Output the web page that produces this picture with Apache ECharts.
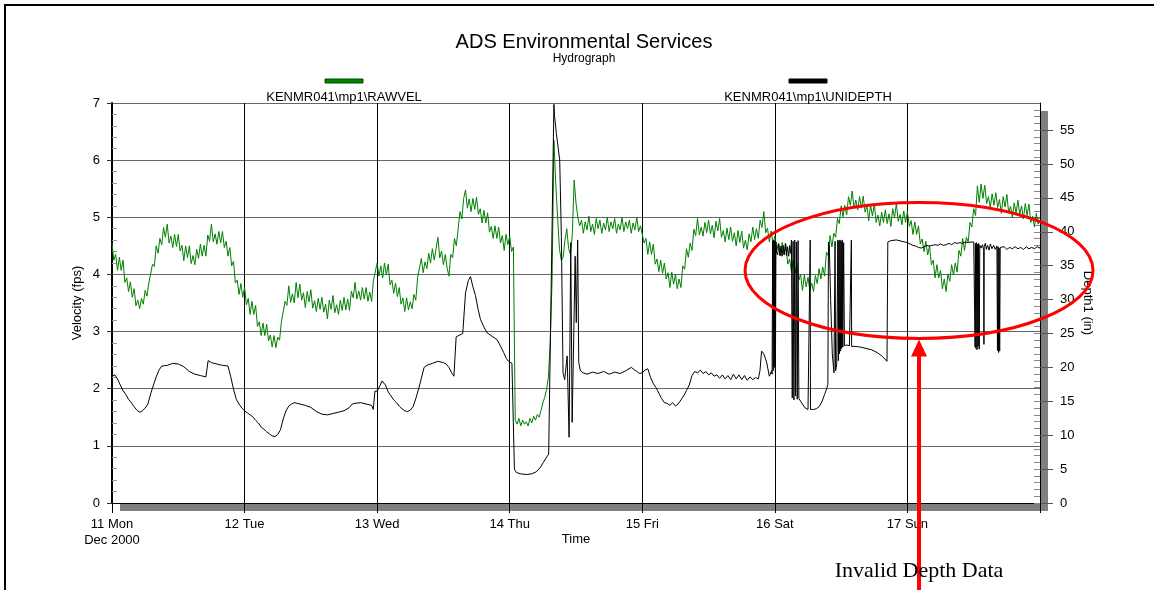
<!DOCTYPE html>
<html>
<head>
<meta charset="utf-8">
<title>ADS Environmental Services - Hydrograph</title>
<script src="https://cdn.jsdelivr.net/npm/echarts@6/dist/echarts.min.js"></script>
<style>
  html, body { margin: 0; padding: 0; background: #fff; }
  #chart { width: 1154px; height: 590px; }
</style>
</head>
<body>
<div id="chart"></div>
<script>
// ---- Axis labels -------------------------------------------------------
const dayLabels = ['11 Mon', '12 Tue', '13 Wed', '14 Thu', '15 Fri', '16 Sat', '17 Sun'];
const monthLabel = 'Dec 2000';
const depthTickLabels = [0, 5, 10, 15, 20, 25, 30, 35, 40, 45, 50, 55];

const velName = 'KENMR041\\mp1\\RAWVEL';
const depthName = 'KENMR041\\mp1\\UNIDEPTH';

// ---- Velocity (fps), one reading every 20 minutes, per day --------------
const VEL_STEP_H = 1 / 3;
const velMon = [4.55,4.25,4.35, 4.07,4.30,4.07, 4.25,3.86,3.94, 3.70,3.87,3.60, 3.75,3.45,3.55, 3.40,3.58,3.48,
  3.72,3.62,3.85, 3.83,4.18,4.14, 4.50,4.37,4.63, 4.52,4.82,4.65, 4.88,4.55,4.67, 4.47,4.70,4.49,
  4.70,4.41,4.51, 4.24,4.50,4.29, 4.50,4.19,4.33, 4.17,4.44,4.28, 4.53,4.32,4.51, 4.32,4.69,4.58,
  4.88,4.57,4.71, 4.53,4.75,4.55, 4.75,4.47,4.58, 4.32,4.47,4.15, 4.23,3.85,3.90, 3.65,3.84,3.60];
const velTue = [3.77,3.47,3.58, 3.30,3.53,3.30, 3.46,3.09,3.17, 2.93,3.15,2.93, 3.13,2.84,2.94, 2.73,2.93,2.72,
  2.90,2.85,3.17, 3.15,3.53,3.46, 3.80,3.51,3.66, 3.50,3.86,3.59, 3.83,3.55,3.68, 3.42,3.70,3.52,
  3.73,3.41,3.54, 3.35,3.58,3.39, 3.60,3.34,3.48, 3.22,3.55,3.39, 3.63,3.33,3.47, 3.30,3.55,3.37,
  3.60,3.38,3.57, 3.37,3.71,3.59, 3.86,3.57,3.71, 3.55,3.77,3.57, 3.77,3.53,3.69, 3.53,3.90,3.87];
const velWed = [4.20,3.97,4.15, 3.94,4.20,3.99, 4.18,3.82,3.90, 3.67,3.85,3.61, 3.77,3.48,3.59, 3.35,3.59,3.38,
  3.52,3.40,3.65, 3.55,3.95,3.92, 4.28,4.03,4.22, 4.10,4.37,4.20, 4.45,4.25,4.45, 4.65,4.29,4.41,
  4.17,4.35,4.11, 3.97,4.35,4.29, 4.63,4.50,4.80, 5.10,4.97,5.33, 5.48,5.16,5.32, 5.10,5.33,5.14,
  5.35,5.05,5.15, 4.90,5.12,4.90, 5.08,4.74,4.84, 4.63,4.85,4.63, 4.83,4.55,4.68, 4.42,4.70,4.52];
const velThu = [4.67,4.40,4.48, 1.45,1.38,1.48, 1.35,1.45,1.38, 1.42,1.35,1.48, 1.40,1.52,1.45, 1.55,1.50,1.62,
  1.75,1.85,1.98, 2.20,2.80,3.90, 6.35,5.60,5.00, 4.45,4.25,4.30, 4.60,4.80,4.45, 4.35,4.70,5.65,
  5.25,5.00,4.85, 4.95,4.72,4.92, 4.78,5.02,4.75, 4.88,4.70,4.98, 4.80,4.95,4.72, 4.90,4.78,5.00,
  4.75,4.92,4.80, 4.98,4.72,4.88, 4.78,5.00,4.75, 4.92,4.80,4.95, 4.72,4.90,4.78, 5.00,4.75,4.85];
const velFri = [4.85,4.55,4.63, 4.35,4.57,4.35, 4.53,4.18,4.27, 4.05,4.25,4.02, 4.20,3.92,4.03, 3.77,4.04,3.83,
  4.00,3.75,3.92, 3.77,4.15,4.09, 4.45,4.30,4.55, 4.42,4.79,4.68, 4.98,4.69,4.83, 4.67,4.91,4.73,
  4.95,4.71,4.86, 4.64,4.93,4.76, 4.98,4.65,4.77, 4.57,4.81,4.61, 4.83,4.58,4.73, 4.50,4.77,4.56,
  4.76,4.46,4.60, 4.43,4.71,4.57, 4.83,4.61,4.80, 4.63,4.95,4.82, 5.10,4.73,4.81, 4.57,4.76,4.53];
const velSat = [4.67,4.43,4.55, 4.33,4.56,4.34, 4.53,4.18,4.27, 4.05,4.25,4.02, 4.20,3.90,4.00, 3.72,3.99,3.78,
  3.95,3.72,3.85, 3.70,3.98,3.84, 4.10,3.92,4.13, 3.97,4.39,4.33, 4.68,4.48,4.72, 4.65,4.98,4.89,
  5.20,5.01,5.21, 5.04,5.36,5.21, 5.46,5.16,5.30, 5.13,5.36,5.16, 5.37,5.09,5.20, 4.94,5.22,5.02,
  5.23,4.91,5.04, 4.85,5.09,4.91, 5.13,4.89,5.06, 4.84,5.15,5.00, 5.24,4.93,5.05, 4.87,5.11,4.91];
const velSun = [5.10,4.84,4.94, 4.70,4.92,4.70, 4.85,4.53,4.62, 4.40,4.58,4.34, 4.50,4.17,4.25, 3.94,4.17,3.94,
  4.07,3.75,3.92, 3.70,4.01,3.88, 4.17,3.99,4.20, 4.04,4.42,4.32, 4.63,4.42,4.65, 4.57,4.91,4.83,
  5.15,5.03,5.55, 5.26,5.58,5.33, 5.56,5.24,5.36, 5.17,5.41,5.21, 5.43,5.17,5.31, 5.07,5.36,5.18,
  5.40,5.08,5.19, 5.00,5.25,5.07, 5.30,5.05,5.20, 4.97,5.24,5.03, 5.23,4.91,5.02, 4.83,5.07,4.88, 4.95];

// ---- Depth (in), [hour of day, value] per day ---------------------------
const depthMon = [[0,18.7],[0.5,18.9],[1,18.3],[1.5,17.4],[2,16.6],[2.5,16.0],[3,15.3],[3.5,14.8],
  [4,14.2],[4.5,13.7],[5,13.4],[5.5,13.6],[6,14.0],[6.5,14.6],[7,16.1],[7.5,17.4],[8,18.6],
  [8.5,19.6],[9,20.2],[10,20.3],[11,20.6],[12,20.5],[13,20.1],[14,19.4],[15,19.0],[16,18.8],
  [17,18.6],[17.4,21.0],[18,20.7],[19,20.5],[20,20.3],[21,20.2],[21.5,18.6],[22,16.8],
  [22.5,15.3],[23,14.6],[23.5,14.0]];
const depthTue = [[0,13.6],[0.5,13.3],[1,13.0],[1.5,12.7],[2,12.2],[2.5,11.8],[3,11.2],[3.5,10.9],
  [4,10.5],[4.5,10.2],[5,9.9],[5.5,9.8],[6,10.1],[6.5,10.8],[7,12.4],[7.5,13.6],[8,14.3],
  [8.5,14.6],[9,14.8],[9.5,14.7],[10,14.6],[11,14.4],[12,14.1],[13,13.5],[14,13.1],[15,13.0],
  [16,13.2],[17,13.4],[18,13.6],[19,14.1],[19.5,14.6],[20,14.7],[21,14.8],[22,14.6],[23,14.4],
  [23.3,13.8],[23.6,16.5]];
const depthWed = [[0,16.5],[0.5,17.3],[0.9,18.0],[1.5,17.4],[2,16.4],[2.5,15.8],[3,15.2],[3.5,14.8],
  [4,14.3],[4.5,13.9],[5,13.6],[5.5,13.5],[6,13.7],[6.5,14.2],[7,15.4],[7.5,16.8],[8,18.4],
  [8.5,20.0],[9,20.3],[10,20.6],[11,20.9],[12,20.7],[12.5,20.5],[13,20.0],[13.5,19.2],[13.9,18.7],
  [14.3,24.5],[15,24.8],[15.5,25.0],[16,31.0],[16.5,32.8],[16.9,33.4],[17.3,32.0],[17.8,30.6],
  [18.3,28.5],[18.7,27.1],[19.3,26.0],[19.9,25.1],[20.8,24.6],[21.7,24.1],[22.3,23.2],[22.9,22.2],
  [23.4,21.3],[23.8,20.9]];
const depthThu = [[0,20.8],[0.4,20.6],[0.75,20.5],[0.85,5.0],[1.2,4.5],[2,4.3],[3,4.2],[4,4.3],
  [4.8,4.6],[5.5,5.2],[6.1,6.0],[6.7,6.8],[7.05,7.2],[7.25,18.0],[7.5,31.5],[8.0,58.8],[8.1,57.2],
  [8.45,54.5],[9.05,50.6],[9.35,39.3],[9.65,19.2],[9.95,18.2],[10.4,21.7],[10.75,9.7],[11.05,38.4],
  [11.3,11.9],[11.6,25.1],[11.85,36.4],[12.05,26.6],[12.3,38.8],[12.5,20.7],[12.8,19.5],[13.3,19.2],
  [14,19.0],[15,19.3],[16,19.1],[17,19.4],[18,19.0],[19,19.3],[20,19.1],[21,19.5],[22,20.0],
  [23,19.4],[23.5,19.1]];
const depthFri = [[0,19.2],[0.5,19.6],[1,19.8],[1.5,18.5],[2,17.6],[2.5,17.0],[3,16.2],[3.5,15.4],
  [4,14.8],[4.5,14.7],[5,14.4],[5.5,14.8],[6,14.3],[6.5,14.6],[7,15.2],[7.5,15.8],[8,16.6],
  [8.5,17.4],[9,18.8],[9.5,19.4],[10,19.2],[10.5,19.6],[11,19.1],[11.5,19.4],[12,18.9],[12.5,19.2],
  [13,18.7],[13.5,18.9],[14,18.4],[14.5,18.9],[15,18.3],[15.5,18.8],[16,18.2],[16.5,19.0],
  [17,18.3],[17.5,18.9],[18,18.2],[18.5,18.8],[19,18.1],[19.5,18.6],[20,18.2],[20.5,18.5],
  [21,18.3],[21.3,19.5],[21.6,22.4],[22,22.0],[22.5,20.8],[23,18.7],[23.4,19.5]];
const depthSat = [[-0.5,19.0],[-0.4,38.6],[-0.3,19.5],[-0.2,38.8],[-0.1,20.0],[0,38.7],[0.1,19.2],
  [0.2,38.5],[0.3,37.0],[0.5,36.6],[0.7,38.2],[0.9,36.5],[1.1,37.9],[1.3,36.4],[1.5,38.0],[1.7,36.6],
  [1.9,38.3],[2.1,36.5],[2.3,37.8],[2.5,36.4],[2.7,38.0],[2.9,36.8],[3.0,38.8],[3.15,15.5],
  [3.3,38.6],[3.45,15.2],[3.6,38.8],[3.75,15.8],[3.9,38.5],[4.05,15.3],[4.2,38.7],[4.35,15.4],
  [4.5,15.3],[5,14.6],[5.5,14.0],[6,13.8],[6.35,13.8],[6.4,38.8],[6.45,13.8],[7,13.8],[7.5,13.9],
  [8,14.2],[8.5,14.9],[9,16.0],[9.4,16.9],[9.6,17.5],[9.7,38.5],[9.85,38.0],[10.1,30.0],[10.4,22.0],
  [10.7,19.2],[10.9,38.6],[11.0,19.5],[11.2,20.5],[11.4,38.8],[11.5,21.0],[11.6,38.7],[11.7,22.0],
  [11.8,38.8],[11.9,22.4],[12.0,38.6],[12.1,22.8],[12.2,38.8],[12.3,23.0],[12.45,38.4],[12.6,23.2],
  [13,23.3],[13.5,23.2],[13.8,23.1],[13.85,38.8],[13.9,23.1],[14.5,23.1],[15.5,23.0],[16.5,22.8],
  [17.5,22.6],[18.5,22.2],[19.5,21.6],[20.3,20.9],[20.45,38.5],[21,38.7],[22,38.8],[23,38.6]];
const depthSun = [[0,38.4],[0.5,38.2],[1,38.0],[1.5,37.9],[2,37.7],[2.5,37.6],[3,37.8],[3.5,38.0],
  [4,37.9],[4.5,38.0],[5,38.1],[5.5,38.0],[6,38.2],[6.5,38.0],[7,38.1],[7.5,38.3],[8,38.1],
  [8.5,38.4],[9,38.3],[9.5,38.4],[10,38.3],[10.5,38.5],[11,38.4],[11.5,38.5],[12,38.5],[12.2,38.4],
  [12.25,23.0],[12.3,38.3],[12.4,22.8],[12.5,38.4],[12.6,22.6],[12.7,38.2],[12.8,23.1],[12.9,38.3],
  [13.0,22.7],[13.1,38.0],[13.3,37.6],[13.6,38.1],[13.8,37.2],[13.85,23.4],[13.9,37.8],[14.1,38.3],
  [14.3,37.4],[14.5,38.0],[14.8,37.3],[15.0,38.2],[15.3,37.5],[15.6,38.0],[15.9,37.4],[16.2,37.9],
  [16.3,22.5],[16.4,37.8],[16.5,22.2],[16.6,37.6],[16.7,22.4],[16.8,37.7],[17,37.5],[17.5,37.8],
  [18,37.4],[18.5,37.7],[19,37.5],[19.5,37.8],[20,37.5],[20.5,37.7],[21,37.4],[21.5,37.8],[22,37.5],
  [22.5,37.7],[23,37.5],[23.5,37.8],[24,37.6]];

// ---- Build series on a continuous hour scale (0 = 11 Dec 00:00) --------
const velocityByDay = [velMon, velTue, velWed, velThu, velFri, velSat, velSun];
const depthByDay = [depthMon, depthTue, depthWed, depthThu, depthFri, depthSat, depthSun];
const velData = [];
velocityByDay.forEach((vals, d) => vals.forEach((v, i) => velData.push([d * 24 + i * VEL_STEP_H, v])));
const depthData = [];
depthByDay.forEach((pts, d) => pts.forEach(([h, v]) => depthData.push([d * 24 + h, v])));

// minor tick positions
const velMinor = [];
for (let i = 1; i < 35; i++) if (i % 5) velMinor.push(i / 5);
const depthMinor = [];
for (let i = 0; i <= 58; i++) depthMinor.push(i);

const FONT = '"Liberation Sans", Arial, sans-serif';
const SERIF = '"Liberation Serif", "Times New Roman", serif';
const G = { left: 112, top: 103, width: 928, height: 400 };
const SHADOW = 8;
const HOURS = dayLabels.length * 24;

const chart = echarts.init(document.getElementById('chart'), null, { renderer: 'canvas' });

const option = {
  animation: false,
  backgroundColor: '#fff',
  textStyle: { fontFamily: FONT, color: '#000' },
  title: {
    text: 'ADS Environmental Services',
    subtext: 'Hydrograph',
    left: 579, top: 27, textAlign: 'center', itemGap: 1,
    textStyle: { fontFamily: FONT, fontSize: 20, fontWeight: 'normal', color: '#000' },
    subtextStyle: { fontFamily: FONT, fontSize: 12, color: '#000' }
  },
  grid: { left: G.left, top: G.top, width: G.width, height: G.height, containLabel: false,
          show: true, backgroundColor: '#fff', borderWidth: 0 },
  xAxis: {
    type: 'value', min: 0, max: HOURS, interval: 24,
    name: 'Time', nameLocation: 'middle', nameGap: 30, nameMoveOverlap: false,
    nameTextStyle: { fontFamily: FONT, fontSize: 13, color: '#000' },
    axisLine: { onZero: false, lineStyle: { color: '#000', width: 1 } },
    axisTick: { length: 10, lineStyle: { color: '#000', width: 1 } },
    axisLabel: {
      margin: 13, fontSize: 13, color: '#000', lineHeight: 16, showMinLabel: true,
      formatter: (val) => {
        const i = Math.round(val / 24);
        if (i >= dayLabels.length) return '';
        return i === 0 ? dayLabels[0] + '\n' + monthLabel : dayLabels[i];
      }
    },
    splitLine: { show: true, lineStyle: { color: '#000', width: 1 } }
  },
  yAxis: [
    {
      type: 'value', min: 0, max: 7, interval: 1, position: 'left',
      name: 'Velocity (fps)', nameLocation: 'middle', nameGap: 28, nameMoveOverlap: false,
      nameTextStyle: { fontFamily: FONT, fontSize: 13, color: '#000' },
      axisLine: { show: true, onZero: false, lineStyle: { color: '#000', width: 2 } },
      axisTick: { show: true, length: 5, lineStyle: { color: '#333' } },
      axisLabel: { margin: 12, fontSize: 13, color: '#000' },
      splitLine: { show: true, lineStyle: { color: '#666', width: 1 } }
    },
    {
      type: 'value', min: 0, max: 59, position: 'right',
      name: 'Depth1 (in)', nameLocation: 'middle', nameRotate: -90, nameGap: 41, nameMoveOverlap: false,
      nameTextStyle: { fontFamily: FONT, fontSize: 13, color: '#000' },
      axisLine: { show: true, onZero: false, lineStyle: { color: '#000', width: 1 } },
      axisTick: { show: true, length: 13, customValues: depthTickLabels, lineStyle: { color: '#555' } },
      axisLabel: { margin: 20, fontSize: 13, color: '#000', customValues: depthTickLabels },
      splitLine: { show: false }
    },
    {
      type: 'value', min: 0, max: 7, position: 'left',
      axisLine: { show: false, onZero: false },
      axisTick: { show: true, inside: true, length: 5, customValues: velMinor, lineStyle: { color: '#999' } },
      axisLabel: { show: false },
      splitLine: { show: false }
    },
    {
      type: 'value', min: 0, max: 59, position: 'right',
      axisLine: { show: false, onZero: false },
      axisTick: { show: true, inside: true, length: 6, customValues: depthMinor, lineStyle: { color: '#888' } },
      axisLabel: { show: false },
      splitLine: { show: false }
    }
  ],
  series: [
    {
      name: velName, type: 'line', xAxisIndex: 0, yAxisIndex: 0, data: velData,
      showSymbol: false, symbol: 'none', z: 3,
      lineStyle: { color: '#008000', width: 1 }, itemStyle: { color: '#008000' }
    },
    {
      name: depthName, type: 'line', xAxisIndex: 0, yAxisIndex: 1, data: depthData,
      showSymbol: false, symbol: 'none', z: 4,
      lineStyle: { color: '#000', width: 1 }, itemStyle: { color: '#000' }
    }
  ]
};
chart.setOption(option);

// ---- Frame, plot shadow, legend keys and the annotation -------------------
const plotMid = G.left + G.width / 2;
const keyOffset = 232;
function legendKey(cx, color, label) {
  return [
    { type: 'rect', shape: { x: cx - 19, y: 79, width: 38, height: 4 },
      style: { fill: color, stroke: color === '#000' ? '#000' : '#005000', lineWidth: 1 } },
    { type: 'text', x: cx, y: 97,
      style: { text: label, fill: '#000', font: '13px ' + FONT, textAlign: 'center', textVerticalAlign: 'middle' } }
  ];
}

// annotation placed in data space: around the Sat/Sun depth dropouts
const ANNOT = { hour: 146.1, vel: 4.07, halfHours: 31.5, halfVel: 1.19 };
const [ax, ay] = chart.convertToPixel({ xAxisIndex: 0, yAxisIndex: 0 }, [ANNOT.hour, ANNOT.vel]);
const [ex] = chart.convertToPixel({ xAxisIndex: 0, yAxisIndex: 0 }, [ANNOT.hour + ANNOT.halfHours, 0]);
const [, ey] = chart.convertToPixel({ xAxisIndex: 0, yAxisIndex: 0 }, [0, ANNOT.vel - ANNOT.halfVel]);
const rx = ex - ax, ry = ey - ay;
const tipY = ey + 1;

chart.setOption({
  graphic: [
    { type: 'rect', z: -1, silent: true, shape: { x: 5, y: 5, width: 1300, height: 800 },
      style: { fill: 'none', stroke: '#000', lineWidth: 2 } },
    { type: 'rect', z: -1, silent: true,
      shape: { x: G.left + SHADOW, y: G.top + G.height, width: G.width, height: SHADOW },
      style: { fill: '#808080' } },
    { type: 'rect', z: -1, silent: true,
      shape: { x: G.left + G.width, y: G.top + SHADOW, width: SHADOW, height: G.height },
      style: { fill: '#808080' } },
    ...legendKey(plotMid - keyOffset, '#008000', velName),
    ...legendKey(plotMid + keyOffset, '#000', depthName),
    { type: 'ellipse', z: 50, silent: true, shape: { cx: ax, cy: ay, rx: rx, ry: ry },
      style: { fill: 'none', stroke: '#ff0000', lineWidth: 3 } },
    { type: 'line', z: 50, silent: true, shape: { x1: ax, y1: tipY + 14, x2: ax, y2: 620 },
      style: { stroke: '#ff0000', lineWidth: 4 } },
    { type: 'polygon', z: 50, silent: true,
      shape: { points: [[ax, tipY], [ax - 8, tipY + 17], [ax + 8, tipY + 17]] },
      style: { fill: '#ff0000' } },
    { type: 'text', z: 50, x: ax, y: 571,
      style: { text: 'Invalid Depth Data', fill: '#000', font: '22px ' + SERIF,
               textAlign: 'center', textVerticalAlign: 'middle' } }
  ]
});
</script>
</body>
</html>
